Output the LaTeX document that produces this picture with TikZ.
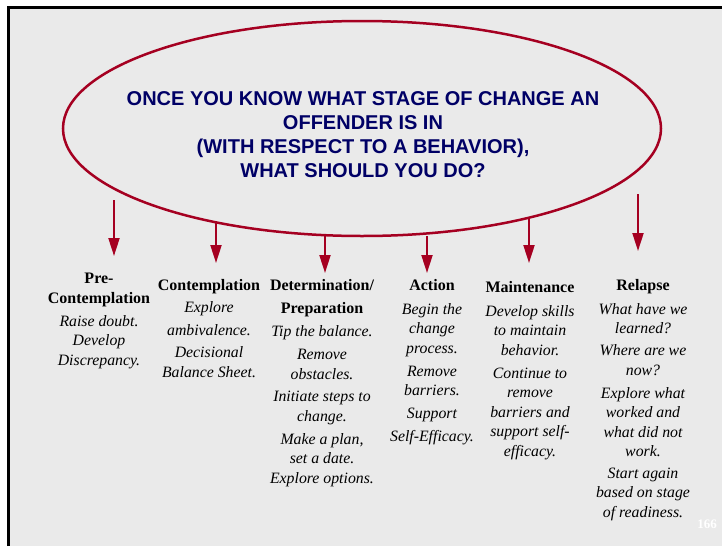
\documentclass[tikz,border=0pt]{standalone}
\usepackage{fontspec}
\setmainfont{Liberation Serif}
\newfontfamily\headfont{Liberation Sans}
\usetikzlibrary{arrows.meta}

\definecolor{slidegray}{HTML}{EAEAEA}
\definecolor{stagered}{HTML}{A50021}
\definecolor{stagenavy}{HTML}{000066}

\tikzset{
    stagearrow/.style={draw=stagered, line width=2pt, -{Triangle[length=18pt, width=11pt]}},
    stagehead/.style={anchor=north, align=center, inner sep=0pt, font=\fontsize{16}{20}\selectfont\bfseries},
    stagetext/.style={anchor=north, align=center, inner sep=0pt, font=\fontsize{15.8}{19.5}\selectfont\itshape}
}

\begin{document}
\begin{tikzpicture}[x=1pt, y=-1pt]

        \useasboundingbox (0,0) rectangle (722,546);
        \fill[slidegray] (8.5,7.5) rectangle (722,546);
        \draw[line width=3pt] (8.5,546) -- (8.5,7.5) -- (722,7.5);

        \draw[stagered, line width=2.5pt] (362,128.5) ellipse (299 and 107.5);
        \node[align=center, text=stagenavy, font=\headfont\fontsize{20}{24}\selectfont\bfseries] (question) at (363,135)
            {ONCE YOU KNOW WHAT STAGE OF CHANGE AN\\OFFENDER IS IN\\(WITH RESPECT TO A BEHAVIOR),\\WHAT SHOULD YOU DO?};

        \coordinate (pre top) at (114,200);
        \coordinate (pre tip) at (114,256);
        \node[stagehead] (pre head) at (99,273) {Pre-\\Contemplation};
        \node[stagetext] (pre text) at (99,315) {Raise doubt.\\Develop\\Discrepancy.};

        \coordinate (con top) at (216,222);
        \coordinate (con tip) at (216,263);
        \node[stagehead] (con head) at (209,279) {Contemplation};
        \node[stagetext] (con text) at (209,301) {Explore\\[3.5pt]ambivalence.\\[3pt]Decisional\\Balance Sheet.};

        \coordinate (det top) at (325,236);
        \coordinate (det tip) at (325,273);
        \node[stagehead] (det head) at (322,279) {Determination/\\[3pt]Preparation};
        \node[stagetext] (det text) at (322,325) {Tip the balance.\\[4pt]Remove\\obstacles.\\[3pt]Initiate steps to\\change.\\[3.5pt]Make a plan,\\set a date.\\Explore options.};

        \coordinate (act top) at (427,236);
        \coordinate (act tip) at (427,273);
        \node[stagehead] (act head) at (432,279) {Action};
        \node[stagetext] (act text) at (432,303) {Begin the\\change\\process.\\[3.5pt]Remove\\barriers.\\[3.5pt]Support\\[3.5pt]Self-Efficacy.};

        \coordinate (mnt top) at (529,218);
        \coordinate (mnt tip) at (529,263);
        \node[stagehead] (mnt head) at (530,281) {Maintenance};
        \node[stagetext] (mnt text) at (530,305) {Develop skills\\to maintain\\behavior.\\[3.5pt]Continue to\\remove\\barriers and\\support self-\\efficacy.};

        \coordinate (rel top) at (638,194);
        \coordinate (rel tip) at (638,251);
        \node[stagehead] (rel head) at (643,279) {Relapse};
        \node[stagetext] (rel text) at (643,303) {What have we\\learned?\\[2.5pt]Where are we\\now?\\[3.5pt]Explore what\\worked and\\what did not\\work.\\[2pt]Start again\\based on stage\\of readiness.};

        \draw[stagearrow] (pre top) -- (pre tip);
        \draw[stagearrow] (con top) -- (con tip);
        \draw[stagearrow] (det top) -- (det tip);
        \draw[stagearrow] (act top) -- (act tip);
        \draw[stagearrow] (mnt top) -- (mnt tip);
        \draw[stagearrow] (rel top) -- (rel tip);

        \node[text=white, font=\fontsize{13}{15}\selectfont\bfseries] (slide number) at (707,524) {166};

    \end{tikzpicture}
\end{document}
